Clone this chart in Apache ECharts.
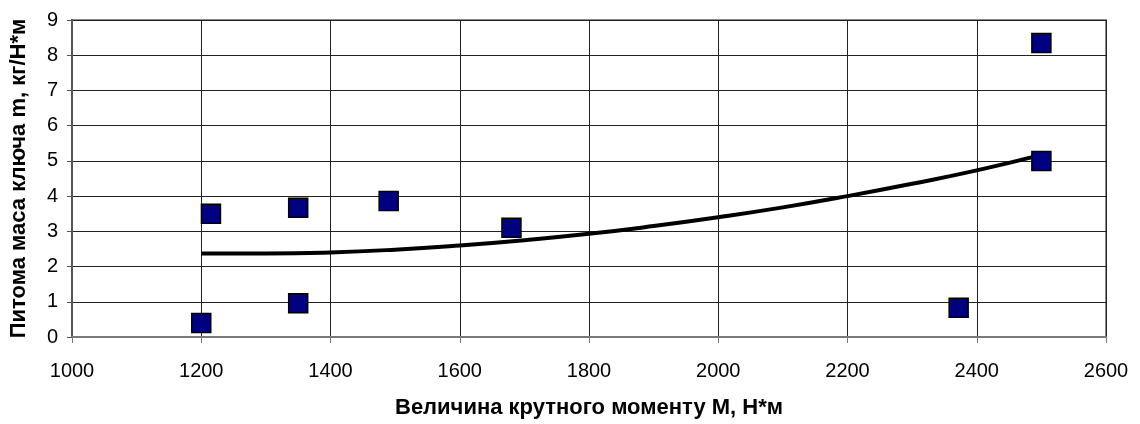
<!DOCTYPE html>
<html>
<head>
<meta charset="utf-8">
<script src="https://cdn.jsdelivr.net/npm/echarts@6/dist/echarts.min.js"></script>
<style>
  html, body { margin: 0; padding: 0; background: #fff; }
  #chart { width: 1140px; height: 424px; }
</style>
</head>
<body>
<div id="chart"></div>
<script>
// measured points (torque M, specific mass m)
const torque = [1200, 1215, 1350, 1350, 1490, 1680, 2372, 2500, 2500]
const mass = [0.4, 3.5, 3.67, 0.96, 3.86, 3.1, 0.83, 8.35, 5.0]

// trend curve
const trendX = [1200, 1300, 1400, 1500, 1600, 1700, 1800, 1900, 2000, 2100, 2200, 2300, 2400, 2500]
const trendY = [2.37, 2.37, 2.4, 2.48, 2.6, 2.75, 2.93, 3.15, 3.4, 3.68, 4.0, 4.35, 4.73, 5.17]

const xTitle = 'Величина крутного моменту М, Н*м'
const yTitle = 'Питома маса ключа m, кг/Н*м'

const font = '"Liberation Sans", Arial, sans-serif'
const chart = echarts.init(document.getElementById('chart'))

chart.setOption({
  animation: false,
  backgroundColor: '#fff',
  grid: {
    left: 72, right: 34, top: 20, bottom: 85,
    show: true, borderColor: '#8a8a8a', borderWidth: 2,
  },
  xAxis: {
    type: 'value',
    min: 1000, max: 2600, interval: 200,
    name: xTitle,
    nameLocation: 'middle',
    nameGap: 60,
    nameTextStyle: { fontFamily: font, fontSize: 22, fontWeight: 'bold', color: '#000' },
    axisLine: { lineStyle: { color: '#7a7a7a', width: 2 } },
    axisTick: { show: true, length: 6, lineStyle: { color: '#7a7a7a' } },
    axisLabel: { fontFamily: font, fontSize: 20, color: '#000', margin: 24, formatter: (v) => String(v) },
    splitLine: { show: true, lineStyle: { color: '#222', width: 1 } },
  },
  yAxis: {
    type: 'value',
    min: 0, max: 9, interval: 1,
    name: yTitle,
    nameLocation: 'middle',
    nameGap: 42,
    nameTextStyle: { fontFamily: font, fontSize: 22, fontWeight: 'bold', color: '#000' },
    axisLine: { show: true, lineStyle: { color: '#555', width: 2 } },
    axisTick: { show: true, length: 5, lineStyle: { color: '#555' } },
    axisLabel: { fontFamily: font, fontSize: 20, color: '#000', margin: 14 },
    splitLine: { show: true, lineStyle: { color: '#222', width: 1 } },
  },
  series: [
    {
      type: 'line',
      data: trendX.map((x, i) => [x, trendY[i]]),
      smooth: true,
      showSymbol: false,
      lineStyle: { color: '#000', width: 4 },
      z: 2,
    },
    {
      type: 'scatter',
      data: torque.map((x, i) => [x, mass[i]]),
      symbol: 'rect',
      symbolSize: 19,
      itemStyle: { color: '#000080', borderColor: '#000', borderWidth: 1.5, opacity: 1 },
      z: 3,
    },
  ],
})
</script>
</body>
</html>
